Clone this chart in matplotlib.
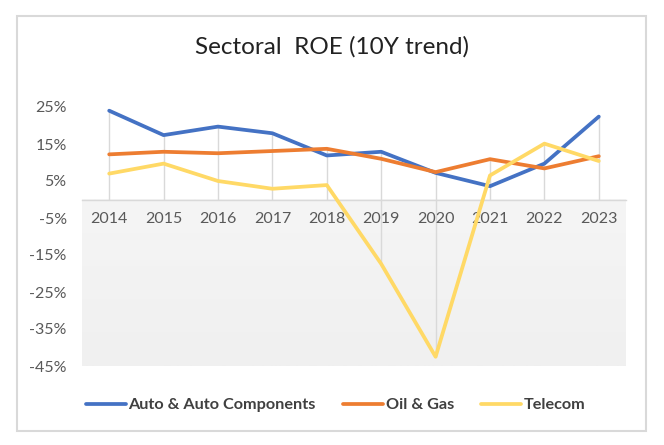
import numpy as np
import matplotlib
matplotlib.use("Agg")
import matplotlib.pyplot as plt
from matplotlib.patches import Rectangle
from matplotlib.ticker import FuncFormatter

years = ["2014", "2015", "2016", "2017", "2018", "2019", "2020", "2021", "2022", "2023"]
auto = [24.0, 17.4, 19.7, 17.9, 11.9, 12.9, 7.2, 3.6, 9.7, 22.4]
oil_gas = [12.2, 12.9, 12.5, 13.1, 13.7, 11.0, 7.4, 10.9, 8.4, 11.7]
telecom = [7.0, 9.7, 5.0, 2.9, 3.9, -17.4, -42.5, 6.5, 15.1, 10.4]
yticks = [25, 15, 5, -5, -15, -25, -35, -45]

series = [("Auto & Auto Components", auto, "#4472C4"),
          ("Oil & Gas", oil_gas, "#ED7D31"),
          ("Telecom", telecom, "#FFD966")]

plt.rcParams["font.family"] = ["Lato", "DejaVu Sans"]

fig = plt.figure(figsize=(6.64, 4.45), dpi=100)
ax = fig.add_axes([82 / 664, 1 - 366 / 445, 544 / 664, 259 / 445])

# chart border
fig.patches.append(Rectangle((17 / 664, 1 - 431 / 445), 629 / 664, 415 / 445,
                             transform=fig.transFigure, fill=False,
                             edgecolor="#d9d9d9", lw=1.5))

x = np.arange(len(years))

# light gray fill below the axis
grad = np.linspace(0, 1, 100).reshape(-1, 1)
ax.imshow(grad, extent=(-0.5, 9.5, -45, 0), aspect="auto",
          cmap=matplotlib.colors.LinearSegmentedColormap.from_list("g", ["#f5f5f5", "#f0f0f0"]),
          origin="upper", zorder=0)

# drop lines
allv = np.array([auto, oil_gas, telecom])
ax.vlines(x, np.minimum(0, allv.min(axis=0)), np.maximum(0, allv.max(axis=0)),
          color="#d9d9d9", lw=1, zorder=1)

for name, vals, col in series:
    ax.plot(x, vals, color=col, lw=2.7, label=name, zorder=3,
            solid_capstyle="round", solid_joinstyle="round")

ax.set_xlim(-0.5, 9.5)
ax.set_ylim(-45, 25)
ax.set_yticks(yticks)
ax.yaxis.set_major_formatter(FuncFormatter(lambda v, p: "{:.0f}%".format(v)))
ax.set_xticks(x)
ax.set_xticklabels(years)

for s in ["top", "right", "left"]:
    ax.spines[s].set_visible(False)
ax.spines["bottom"].set_position(("data", 0))
ax.spines["bottom"].set_color("#d9d9d9")
ax.spines["bottom"].set_linewidth(1)
ax.tick_params(axis="both", length=0, labelsize=11.5, labelcolor="#595959")
ax.tick_params(axis="y", pad=11)
ax.tick_params(axis="x", pad=9)

fig.suptitle("Sectoral  ROE (10Y trend)", x=0.5, y=1 - 47 / 445, va="center",
             fontsize=17.5, color="#222222")

leg = fig.legend(loc="center left", bbox_to_anchor=(86 / 664, 1 - 405 / 445), ncol=3,
                 frameon=False, handlelength=2.45, handletextpad=0.15,
                 columnspacing=1.7, borderaxespad=0, borderpad=0,
                 prop={"size": 11.7, "weight": "bold"})
for t in leg.get_texts():
    t.set_color("#404040")

fig.savefig("out.png", dpi=100)
